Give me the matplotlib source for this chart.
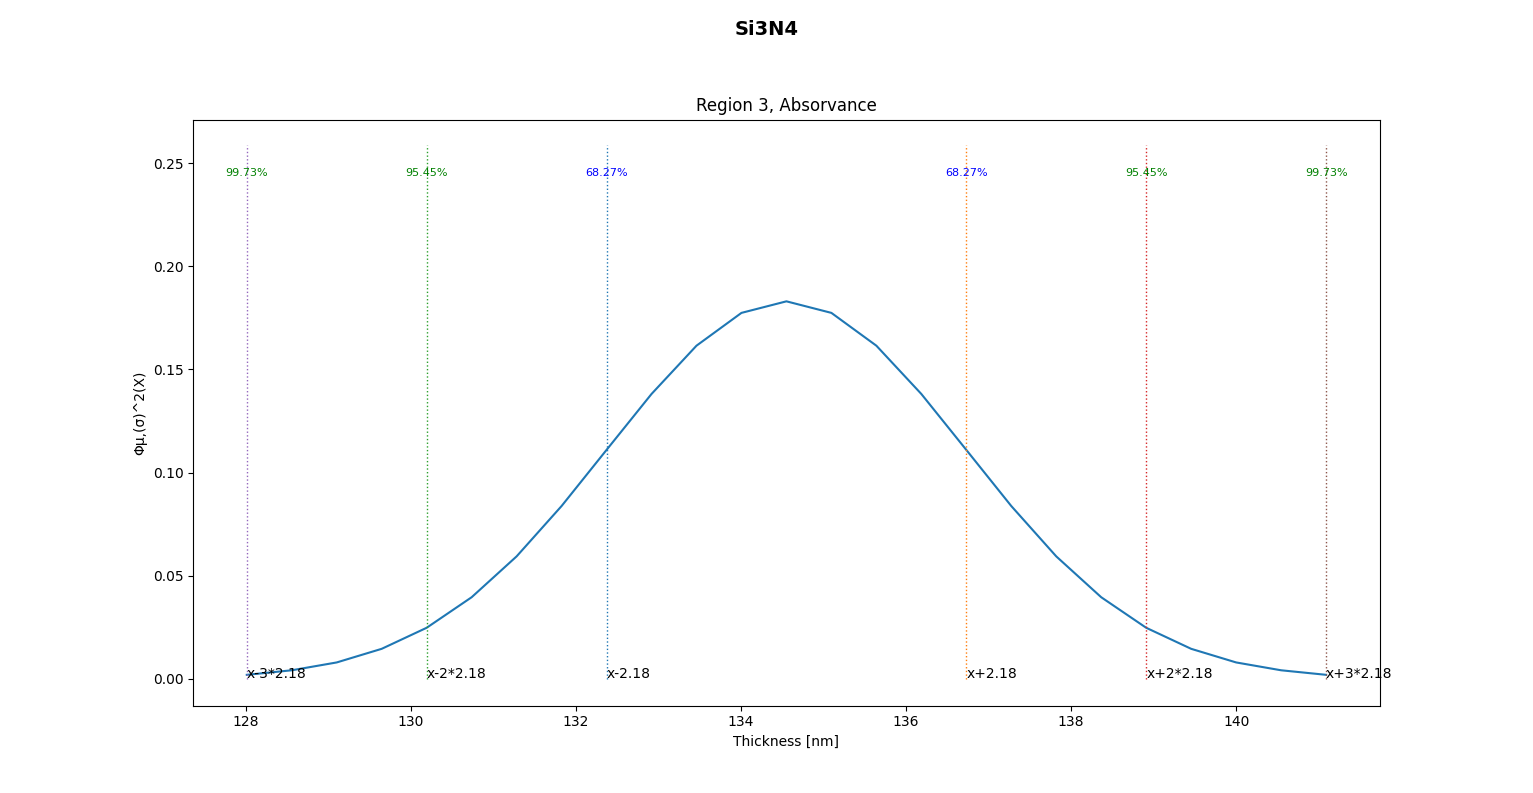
import matplotlib
matplotlib.use('Agg')
import matplotlib.pyplot as plt

# curve points
thickness = [128.01, 128.555, 129.10, 129.645, 130.19, 130.735, 131.28, 131.825, 132.37,
             132.915, 133.46, 134.005, 134.55, 135.095, 135.64, 136.185, 136.73, 137.275,
             137.82, 138.365, 138.91, 139.455, 140.00, 140.545, 141.09]
density = [0.0020, 0.0042, 0.0080, 0.0146, 0.0248, 0.0396, 0.0594, 0.0838, 0.1110,
           0.1381, 0.1615, 0.1774, 0.1830, 0.1774, 0.1615, 0.1381, 0.1110, 0.0838,
           0.0594, 0.0396, 0.0248, 0.0146, 0.0080, 0.0042, 0.0020]

# sigma markers
marker_x = [128.01, 130.19, 132.37, 136.73, 138.91, 141.09]
marker_labels = ['x-3*2.18', 'x-2*2.18', 'x-2.18', 'x+2.18', 'x+2*2.18', 'x+3*2.18']
marker_pct = ['99.73%', '95.45%', '68.27%', '68.27%', '95.45%', '99.73%']
marker_colors = ['C4', 'C2', 'C0', 'C1', 'C3', 'C5']
pct_colors = ['green', 'green', 'blue', 'blue', 'green', 'green']

fig = plt.figure(figsize=(15.33, 7.93), dpi=100)
ax = fig.add_axes([0.126, 0.110, 0.774, 0.739])
fig.suptitle('Si3N4', fontsize=14, fontweight='bold', y=0.975)
ax.set_title('Region 3, Absorvance')

ax.plot(thickness, density, color='C0')
for x, lab, pct, c, pc in zip(marker_x, marker_labels, marker_pct, marker_colors, pct_colors):
    ax.plot([x, x], [0, 0.259], linestyle=':', color=c, linewidth=1)
    ax.text(x, 0.245, pct, color=pc, fontsize=8, ha='center', va='center')
    ax.text(x, 0.0025, lab, fontsize=10, ha='left', va='center')

ax.set_xlim(127.36, 141.74)
ax.set_ylim(-0.013, 0.271)
ax.set_xticks([128, 130, 132, 134, 136, 138, 140])
ax.set_xlabel('Thickness [nm]')
ax.set_ylabel('Φμ,(σ)^2(X)')

fig.savefig('out.png')
